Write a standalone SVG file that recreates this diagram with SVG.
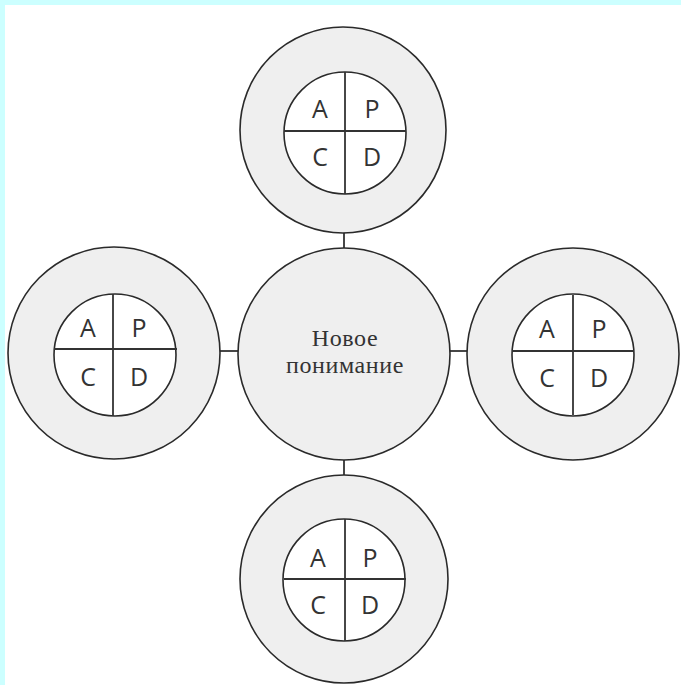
<svg xmlns="http://www.w3.org/2000/svg" width="681" height="685" viewBox="0 0 681 685">
<style>
.outer{fill:#efefef;stroke:#2a2a2a;stroke-width:1.6}
.inner{fill:#ffffff;stroke:#2a2a2a;stroke-width:1.6}
.cross{stroke:#333;stroke-width:1.8;fill:none}
.conn{stroke:#333;stroke-width:1.8;fill:none}
.let{font-family:"Open Sans","Liberation Sans",sans-serif;font-size:25px;fill:#333;text-anchor:middle}
.ctr{font-family:"Liberation Serif","Times New Roman",serif;font-size:24px;letter-spacing:0.6px;fill:#333;text-anchor:middle}
</style>
<rect x="0" y="0" width="681" height="685" fill="#ffffff"/>
<rect x="0" y="0" width="681" height="5" fill="#ccffff"/>
<rect x="0" y="0" width="5" height="685" fill="#ccffff"/>
<g id="connectors">
<line class="conn" x1="344" y1="232" x2="344" y2="249"/>
<line class="conn" x1="344" y1="459" x2="344" y2="476"/>
<line class="conn" x1="220" y1="351" x2="238" y2="351"/>
<line class="conn" x1="450" y1="351" x2="467" y2="351"/>
</g>
<g id="center">
<circle class="outer" cx="344" cy="354" r="106"/>
<text class="ctr" x="345" y="346">Новое</text>
<text class="ctr" x="345" y="373">понимание</text>
</g>
<g id="top">
<circle class="outer" cx="343" cy="130" r="103"/>
<circle class="inner" cx="345" cy="133" r="61"/>
<line class="cross" x1="345" y1="72" x2="345" y2="194"/>
<line class="cross" x1="284" y1="131" x2="406" y2="131"/>
<text class="let" x="320" y="118">A</text>
<text class="let" x="372" y="118">P</text>
<text class="let" x="320" y="166">C</text>
<text class="let" x="372" y="166">D</text>
</g>
<g id="left">
<circle class="outer" cx="114" cy="353" r="106"/>
<circle class="inner" cx="115" cy="355" r="61"/>
<line class="cross" x1="113" y1="294" x2="113" y2="416"/>
<line class="cross" x1="54" y1="349" x2="177" y2="349"/>
<text class="let" x="88" y="337">A</text>
<text class="let" x="139" y="337">P</text>
<text class="let" x="88" y="386">C</text>
<text class="let" x="139" y="386">D</text>
</g>
<g id="right">
<circle class="outer" cx="573" cy="354" r="106"/>
<circle class="inner" cx="573" cy="355" r="61"/>
<line class="cross" x1="573" y1="295" x2="573" y2="415"/>
<line class="cross" x1="512" y1="351" x2="634" y2="351"/>
<text class="let" x="547" y="338">A</text>
<text class="let" x="599" y="338">P</text>
<text class="let" x="547" y="387">C</text>
<text class="let" x="599" y="387">D</text>
</g>
<g id="bottom">
<circle class="outer" cx="344" cy="579" r="104"/>
<circle class="inner" cx="344" cy="580" r="61"/>
<line class="cross" x1="345" y1="519" x2="345" y2="641"/>
<line class="cross" x1="284" y1="579" x2="406" y2="579"/>
<text class="let" x="318" y="567">A</text>
<text class="let" x="370" y="567">P</text>
<text class="let" x="318" y="614">C</text>
<text class="let" x="370" y="614">D</text>
</g>
</svg>
